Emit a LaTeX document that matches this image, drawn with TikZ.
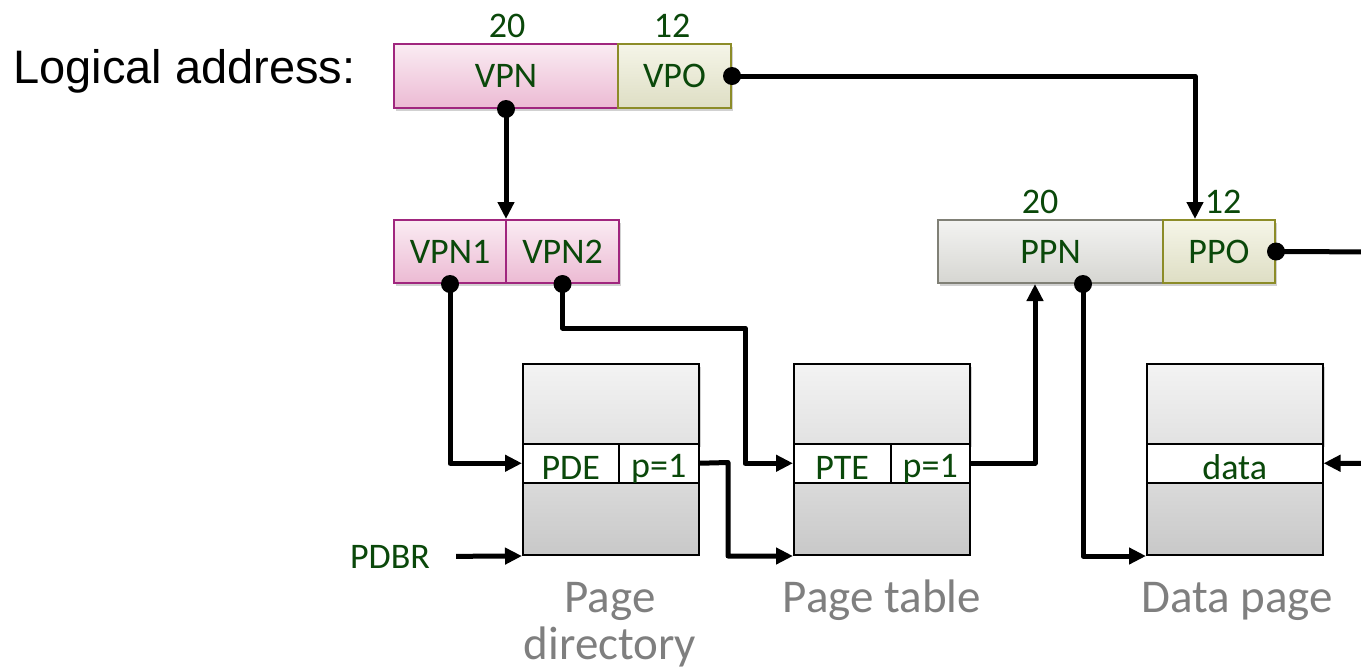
\documentclass[tikz,border=0pt]{standalone}
\usepackage{fontspec}
\setmainfont{Carlito}
\newfontfamily\arialf{Liberation Sans}
\usetikzlibrary{arrows.meta,shadows}
\definecolor{dkgreen}{RGB}{10,72,10}
\definecolor{labgray}{RGB}{127,127,127}
\definecolor{pinkedge}{RGB}{160,38,126}
\definecolor{pinktop}{RGB}{250,236,243}
\definecolor{pinkbot}{RGB}{236,186,211}
\definecolor{oliveedge}{RGB}{140,140,40}
\definecolor{olivetop}{RGB}{245,245,232}
\definecolor{olivebot}{RGB}{222,222,196}
\definecolor{grayedge}{RGB}{128,128,118}
\definecolor{graytop}{RGB}{243,243,241}
\definecolor{graybot}{RGB}{214,214,210}
\definecolor{tabtop}{RGB}{243,243,243}
\definecolor{tabmid}{RGB}{226,226,226}
\definecolor{tabbot1}{RGB}{218,218,218}
\definecolor{tabbot2}{RGB}{200,200,200}
\tikzset{
  txt/.style={text=dkgreen, font=\fontsize{36}{42}\selectfont},
  shad/.style={drop shadow={shadow xshift=2pt, shadow yshift=-3pt, opacity=0.18, fill=black}},
  fieldbox/.style={rectangle, inner sep=0pt, anchor=north west, line width=2pt, txt, shad},
  pinkbox/.style={fieldbox, draw=pinkedge, top color=pinktop, bottom color=pinkbot},
  olivebox/.style={fieldbox, draw=oliveedge, top color=olivetop, bottom color=olivebot},
  graybox/.style={fieldbox, draw=grayedge, top color=graytop, bottom color=graybot},
  tabtopbox/.style={rectangle, inner sep=0pt, anchor=north west, draw=black, line width=2pt, top color=tabtop, bottom color=tabmid, minimum width=176pt, minimum height=80pt},
  tabbotbox/.style={rectangle, inner sep=0pt, anchor=north west, draw=black, line width=2pt, top color=tabbot1, bottom color=tabbot2, minimum width=176pt, minimum height=72pt},
  cellbox/.style={rectangle, inner sep=0pt, anchor=north west, draw=black, line width=1.5pt, fill=white, minimum height=39pt, txt, text height=32pt, text depth=0pt},
  bits/.style={txt, anchor=base, inner sep=0pt},
  caption/.style={text=labgray, font=\fontsize{47}{47}\selectfont, inner sep=0pt, align=center},
  conn/.style={line width=5pt, line join=round, -{Triangle[length=17pt,width=16pt]}},
  dot/.style={fill=black},
}
\begin{document}
\begin{tikzpicture}[x=1pt,y=-1pt]
\useasboundingbox (0,0) rectangle (1361,670);
\clip (0,0) rectangle (1361,670);
\fill[white] (0,0) rectangle (1361,670);

% logical address
\node[font=\arialf\fontsize{47}{52}\selectfont, anchor=base west, inner sep=0pt] (la) at (13,83) {Logical address:};
\node[pinkbox, minimum width=224pt, minimum height=64pt] (vpn) at (393,43) {VPN};
\node[olivebox, minimum width=113pt, minimum height=64pt] (vpo) at (617,43) {VPO};
\node[bits] (b20a) at (507,37) {20};
\node[bits] (b12a) at (672,37) {12};

% VPN1 / VPN2
\node[pinkbox, minimum width=112pt, minimum height=63pt] (vpn1) at (393,219) {VPN1};
\node[pinkbox, minimum width=113pt, minimum height=63pt] (vpn2) at (505,219) {VPN2};

% physical address
\node[graybox, minimum width=225pt, minimum height=63pt] (ppn) at (937,219) {PPN};
\node[olivebox, minimum width=112pt, minimum height=63pt] (ppo) at (1162,219) {PPO};
\node[bits] (b20b) at (1040,213) {20};
\node[bits] (b12b) at (1223,213) {12};

% page directory
\node[tabtopbox, shad] (pdtop) at (522,363) {};
\node[tabbotbox] (pdbot) at (522,482) {};
\node[cellbox, minimum width=96pt] (pde) at (522,443) {PDE};
\node[cellbox, minimum width=80pt, text height=28pt] (pdp) at (618,443) {p=1};

% page table
\node[tabtopbox, shad] (pttop) at (793,363) {};
\node[tabbotbox] (ptbot) at (793,482) {};
\node[cellbox, minimum width=97pt] (pte) at (793,443) {PTE};
\node[cellbox, minimum width=79pt, text height=28pt] (ptp) at (890,443) {p=1};

% data page
\node[tabtopbox, shad] (dptop) at (1146,363) {};
\node[tabbotbox] (dpbot) at (1146,482) {};
\node[cellbox, minimum width=176pt] (data) at (1146,443) {data};

% captions
\node[caption, anchor=north] (cpd) at (610,582) {Page\\directory};
\node[caption, anchor=base] (cpt) at (882,612) {Page table};
\node[caption, anchor=base] (cdp) at (1237,612) {Data page};

% PDBR
\node[txt, anchor=base, inner sep=0pt] (pdbr) at (390,568) {PDBR};

% routing points
\coordinate (j1) at (745,328);
\coordinate (j2) at (728,462.5);
\coordinate (j3) at (1385,252);
\coordinate (ppnd) at ([xshift=32.5pt]ppn.south);

% connectors
\draw[conn] (vpn.south) -- (vpn.south |- vpn1.north);
\draw[conn] (vpo.east) -| ([xshift=-24pt]ppo.north);
\draw[conn] (vpn1.south) |- (pde.west);
\draw[conn] (vpn2.south) |- (j1) |- (pte.west);
\draw[conn] (pdp.east) -- (j2) |- (ptbot.south west);
\draw[conn] (ptp.east) -| ([xshift=-15.5pt]ppn.south);
\draw[conn] (ppnd) |- (dpbot.south west);
\draw[conn] (ppo.east) -- (j3) |- (data.east);
\draw[conn, shorten <=26pt] (pdbr.east) -- (pdbot.south west);

% dots
\fill[dot] (vpn.south) circle[radius=9pt];
\fill[dot] (vpo.east) circle[radius=9pt];
\fill[dot] (vpn1.south) circle[radius=9pt];
\fill[dot] (vpn2.south) circle[radius=9pt];
\fill[dot] (ppo.east) circle[radius=9pt];
\fill[dot] (ppnd) circle[radius=9pt];
\end{tikzpicture}
\end{document}
